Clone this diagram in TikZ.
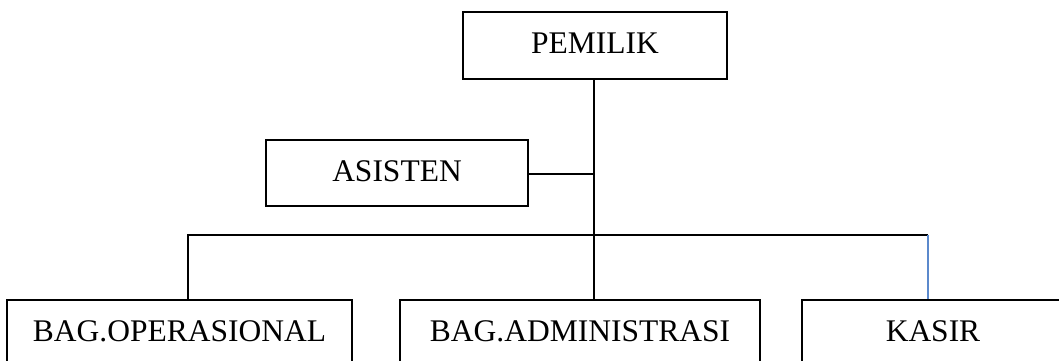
\documentclass[tikz,border=0pt]{standalone}
\usepackage{fontspec}
\setmainfont{Liberation Serif}
\definecolor{kasirblue}{RGB}{91,137,204}
\begin{document}
\begin{tikzpicture}[x=1pt,y=-1pt,
  box/.style={draw=black, line width=1.8pt, rectangle, inner sep=0pt,
    text height=21pt, text depth=5pt, font=\fontsize{31.5}{36}\selectfont},
  conn/.style={draw=black, line width=1.5pt}]
\useasboundingbox (0,0) rectangle (1059,361);
\clip (0,0) rectangle (1059,361);
\node[box, minimum width=264pt, minimum height=67pt] (pemilik) at (595,45.5) {PEMILIK};
\node[box, minimum width=262pt, minimum height=66pt] (asisten) at (397,173) {ASISTEN};
\node[box, minimum width=345pt, minimum height=66pt] (operasional) at (179.5,333) {BAG.OPERASIONAL};
\node[box, minimum width=360pt, minimum height=66pt] (admin) at (580,333) {BAG.ADMINISTRASI};
\node[box, minimum width=262pt, minimum height=66pt] (kasir) at (933,333) {KASIR};
\coordinate (junction) at (594,235);
\coordinate (aside) at (594,174);
\coordinate (left) at (188,235);
\coordinate (right) at (928,235);
\draw[conn] (pemilik.south -| junction) -- (junction) -- (admin.north -| junction);
\draw[conn] (asisten.east |- aside) -- (aside);
\draw[conn] (operasional.north -| left) -- (left) -- (right);
\draw[draw=kasirblue, line width=1.1pt] (right) -- (kasir.north -| right);
\end{tikzpicture}
\end{document}
